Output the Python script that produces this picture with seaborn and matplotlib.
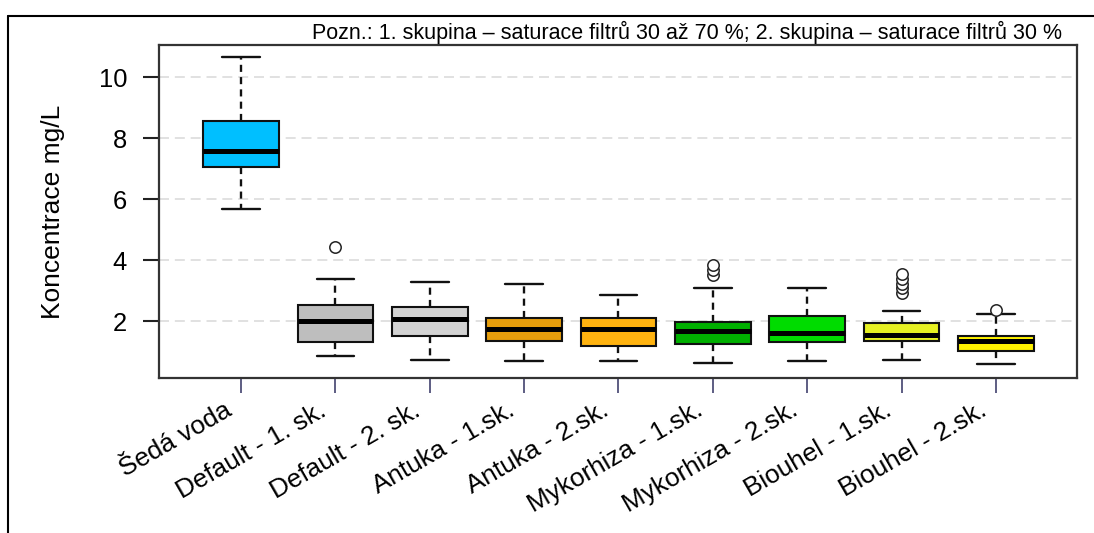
import matplotlib
matplotlib.use("Agg")
import matplotlib.pyplot as plt
from matplotlib.lines import Line2D
from matplotlib.transforms import ScaledTranslation
import seaborn as sns
import pandas as pd

# Groups and box statistics (mg/L)
categories = ["Šedá voda", "Default - 1. sk.", "Default - 2. sk.", "Antuka - 1.sk.",
              "Antuka - 2.sk.", "Mykorhiza - 1.sk.", "Mykorhiza - 2.sk.",
              "Biouhel - 1.sk.", "Biouhel - 2.sk."]
whisker_low = [5.69, 0.84, 0.73, 0.68, 0.68, 0.62, 0.68, 0.73, 0.58]
quartile_1 = [7.06, 1.32, 1.51, 1.34, 1.17, 1.23, 1.32, 1.35, 1.01]
medians = [7.59, 2.00, 2.07, 1.73, 1.73, 1.67, 1.62, 1.55, 1.33]
quartile_3 = [8.58, 2.53, 2.47, 2.10, 2.10, 1.98, 2.16, 1.94, 1.50]
whisker_high = [10.68, 3.37, 3.27, 3.21, 2.87, 3.09, 3.09, 2.33, 2.22]
outliers = [[], [4.42], [], [], [], [3.51, 3.68, 3.85], [],
            [2.92, 3.07, 3.22, 3.38, 3.55], [2.36]]
box_colors = ["#00BFFF", "#BEBEBE", "#D3D3D3", "#E69E0C", "#FFB310",
              "#00B000", "#00DC00", "#E6F022", "#FFF200"]
y_ticks = [2, 4, 6, 8, 10]
note = ("Pozn.: 1. skupina – saturace filtrů 30 až 70 %; "
        "2. skupina – saturace filtrů 30 %")

# Build a sample per group whose quartiles and whiskers equal the statistics above
rows = []
for name, lo, q1, md, q3, hi, out in zip(categories, whisker_low, quartile_1, medians,
                                         quartile_3, whisker_high, outliers):
    k = len(out) + 2
    values = [lo] + [q1] * k + [md] * k + [q3] * k + [hi] * (k - len(out)) + list(out)
    rows += [(name, v) for v in values]
df = pd.DataFrame(rows, columns=["skupina", "koncentrace"])

sns.set_style("white")
plt.rcParams["font.family"] = ["Liberation Sans", "DejaVu Sans"]
plt.rcParams["text.color"] = "black"
plt.rcParams["axes.labelcolor"] = "black"
plt.rcParams["xtick.labelcolor"] = "black"
plt.rcParams["ytick.labelcolor"] = "black"

fig = plt.figure(figsize=(10.94, 5.33), dpi=100)
ax = fig.add_axes([159 / 1094, 1 - 378 / 533, (1077 - 159) / 1094, (378 - 45) / 533])

sns.boxplot(
    data=df, x="skupina", y="koncentrace", hue="skupina", order=categories,
    hue_order=categories, palette=box_colors, saturation=1, width=0.8,
    linecolor="#111111", linewidth=1.5, legend=False, ax=ax,
    whiskerprops={"linestyle": "--", "color": "#111111"},
    capprops={"color": "#111111"},
    medianprops={"linewidth": 3.6, "color": "black"},
    flierprops={"marker": "o", "markersize": 8.2, "markerfacecolor": "white",
                "markeredgecolor": "#222222", "markeredgewidth": 1.1},
)

# Heavier whiskers and caps; longer dashes on the whiskers
for ln in ax.lines:
    if ln.get_marker() in ("o",) or ln.get_linewidth() > 3:
        continue
    ln.set_linewidth(1.7)
    if ln.get_linestyle() == "--":
        ln.set_linestyle((0, (3.0, 2.2)))

ax.set_xlim(-0.87, 8.86)
ax.set_ylim(0.13, 11.06)
ax.set_yticks(y_ticks)
ax.set_yticklabels([str(t) for t in y_ticks])
ax.yaxis.grid(True, color="#DCDCDC", linestyle=(0, (6, 3.5)), linewidth=1.2)
ax.xaxis.grid(False)
ax.set_axisbelow(True)

for sp in ax.spines.values():
    sp.set_visible(True)
    sp.set_color("#333333")
    sp.set_linewidth(1.6)

ax.tick_params(axis="y", which="major", direction="out", length=11.5, width=1.5,
               color="#222222", pad=11.5, labelsize=18.4, left=True)
ax.tick_params(axis="x", which="major", direction="out", length=10.8, width=1.3,
               color="#50507a", pad=14, labelsize=18.8, bottom=True)
ax.set_xticks(range(len(categories)))
ax.set_xticklabels(categories, rotation=30, ha="right", va="baseline",
                   rotation_mode="anchor")
shift = ScaledTranslation(-8 / 100, -2 / 100, fig.dpi_scale_trans)
for lab in ax.get_xticklabels():
    lab.set_transform(lab.get_transform() + shift)

ax.set_xlabel("")
ax.set_ylabel("Koncentrace mg/L", fontsize=19, labelpad=24)

fig.text(1062 / 1094, 1 - 39 / 533, note, ha="right", va="baseline", fontsize=15.5)

# Partial outer frame (left and top edges)
fig.add_artist(Line2D([8 / 1094, 8 / 1094], [0, 1 - 15.5 / 533], color="black",
                      linewidth=1.5, transform=fig.transFigure))
fig.add_artist(Line2D([8 / 1094, 1], [1 - 15.5 / 533, 1 - 15.5 / 533], color="black",
                      linewidth=1.5, transform=fig.transFigure))

fig.savefig("out.png", dpi=100)
